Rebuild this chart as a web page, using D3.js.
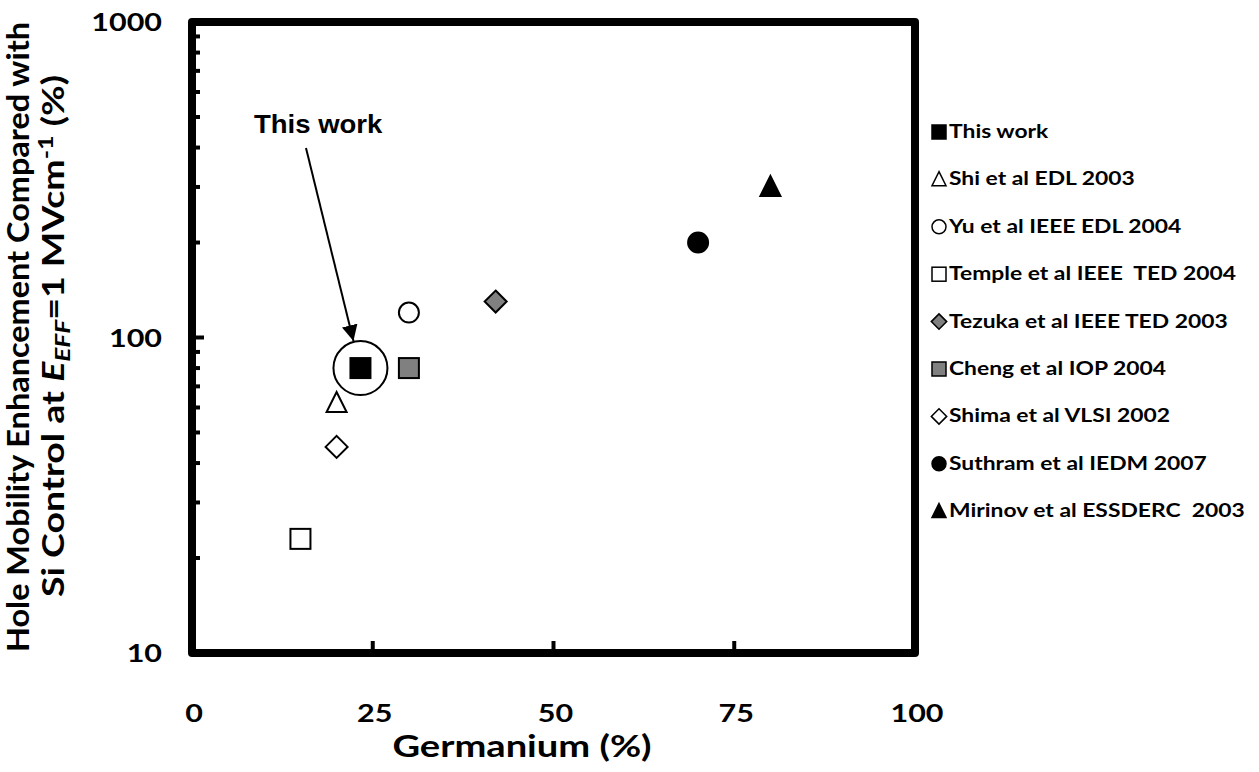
<!DOCTYPE html>
<html>
<head>
<meta charset="utf-8">
<script src="https://cdn.jsdelivr.net/npm/d3@7"></script>
<style>
  body { margin: 0; background: #fff; }
  text { font-family: Lato, "Open Sans", sans-serif; font-weight: bold; fill: #000; }
</style>
</head>
<body>
<div class="chart"></div>
<script>
// data
var labels = ["This work", "Shi et al EDL 2003", "Yu et al IEEE EDL 2004", "Temple et al IEEE  TED 2004",
  "Tezuka et al IEEE TED 2003", "Cheng et al IOP 2004", "Shima et al VLSI 2002",
  "Suthram et al IEDM 2007", "Mirinov et al ESSDERC  2003"];
var germanium = [23.3, 20, 30, 15, 42, 30, 20, 70, 80];
var enhancement = [80, 62, 120, 23, 130, 80, 45, 200, 300];
var shapes = ["square", "triangle", "circle", "square", "diamond", "square", "diamond", "circle", "triangle"];
var fills = ["#000", "#fff", "#fff", "#fff", "#808080", "#808080", "#fff", "#000", "#000"];
var xTicks = [0, 25, 50, 75, 100];
var yTicks = [10, 100, 1000];

var svgWidth = 1259;
var svgHeight = 772;
var stretch = 1.27; // the original picture is wider than tall, text looks stretched

var svg = d3.select(".chart")
  .append("svg")
  .attr("width", svgWidth)
  .attr("height", svgHeight);

var x = d3.scaleLinear().domain([0, 100]).range([192, 915]);
var y = d3.scaleLog().domain([10, 1000]).range([653, 22]);

// minor ticks on the left, inside
var minor = [];
[10, 100].forEach(function(d) { for (var k = 2; k <= 9; k++) minor.push(d * k); });
svg.selectAll(".ytick").data(minor.concat([100])).enter().append("line")
  .attr("x1", 192).attr("x2", d => d == 100 ? 204 : 200)
  .attr("y1", d => y(d)).attr("y2", d => y(d))
  .attr("stroke", "#000").attr("stroke-width", 4);

svg.selectAll(".xtick").data([25, 50, 75]).enter().append("line")
  .attr("x1", d => x(d)).attr("x2", d => x(d))
  .attr("y1", 653).attr("y2", 641)
  .attr("stroke", "#000").attr("stroke-width", 4);

// frame
svg.append("rect")
  .attr("x", x(0)).attr("y", y(1000))
  .attr("width", x(100) - x(0)).attr("height", y(10) - y(1000))
  .attr("fill", "none").attr("stroke", "#000").attr("stroke-width", 8)
  .attr("stroke-linejoin", "round");

// tick labels
svg.selectAll(".xlab").data(xTicks).enter().append("text")
  .attr("transform", d => `translate(${x(d) + 2},722) scale(${stretch},1)`)
  .attr("text-anchor", "middle").attr("font-size", 24)
  .text(d => d);

svg.selectAll(".ylab").data(yTicks).enter().append("text")
  .attr("transform", d => `translate(162,${y(d) + 9}) scale(${stretch},1)`)
  .attr("text-anchor", "end").attr("font-size", 24)
  .text(d => d);

// axis titles
svg.append("text")
  .attr("transform", `translate(522,757) scale(${stretch},1)`)
  .attr("text-anchor", "middle").attr("font-size", 30)
  .text("Germanium (%)");

var yt1 = svg.append("text")
  .attr("transform", "translate(29,337) rotate(-90)")
  .attr("text-anchor", "middle").attr("font-size", 30)
  .attr("textLength", 630).attr("lengthAdjust", "spacingAndGlyphs")
  .text("Hole Mobility Enhancement Compared with");

var yt = svg.append("text")
  .attr("transform", "translate(64,336) rotate(-90)")
  .attr("text-anchor", "middle").attr("font-size", 30)
  .attr("textLength", 522).attr("lengthAdjust", "spacingAndGlyphs");
yt.append("tspan").text("Si Control at ");
yt.append("tspan").attr("font-style", "italic").text("E");
yt.append("tspan").attr("font-style", "italic").attr("font-size", 21).attr("dy", 6).text("EFF");
yt.append("tspan").attr("dy", -6).text("=1 MVcm");
yt.append("tspan").attr("font-size", 20).attr("dy", -11).text("-1");
yt.append("tspan").attr("dy", 11).text(" (%)");

// markers
function drawMarker(g, shape, s) {
  if (shape == "square") {
    g.append("rect").attr("x", -s / 2).attr("y", -s / 2).attr("width", s).attr("height", s);
  } else if (shape == "circle") {
    g.append("circle").attr("r", s / 2);
  } else if (shape == "diamond") {
    var h = s * 0.55;
    g.append("path").attr("d", `M0,${-h}L${h},0L0,${h}L${-h},0Z`);
  } else {
    g.append("path").attr("d", `M0,${-s * 0.55}L${s / 2},${s * 0.45}L${-s / 2},${s * 0.45}Z`);
  }
}

var idx = d3.range(labels.length);

svg.selectAll(".pt").data(idx).enter().append("g")
  .attr("transform", i => `translate(${x(germanium[i])},${y(enhancement[i])})`)
  .each(function(i) {
    var g = d3.select(this);
    drawMarker(g, shapes[i], 20);
    g.selectAll("*").attr("fill", fills[i]).attr("stroke", "#000").attr("stroke-width", 2);
  });

// "This work" highlight
var tx = x(germanium[0]), ty = y(enhancement[0]);
svg.append("circle").attr("cx", tx).attr("cy", ty).attr("r", 27)
  .attr("fill", "none").attr("stroke", "#000").attr("stroke-width", 2);

svg.append("defs").append("marker")
  .attr("id", "arrow").attr("viewBox", "0 0 10 10")
  .attr("refX", 10).attr("refY", 5)
  .attr("markerWidth", 8).attr("markerHeight", 8)
  .attr("orient", "auto")
  .append("path").attr("d", "M0,0L10,5L0,10Z").attr("fill", "#000");

svg.append("line")
  .attr("x1", 306).attr("y1", 148)
  .attr("x2", tx - 7).attr("y2", ty - 27)
  .attr("stroke", "#000").attr("stroke-width", 2)
  .attr("marker-end", "url(#arrow)");

svg.append("text")
  .attr("transform", "translate(254,133) scale(1.1,1)")
  .attr("font-size", 25)
  .style("font-family", "'Liberation Sans', Arial, sans-serif")
  .text("This work");

// legend
var leg = svg.selectAll(".leg").data(idx).enter().append("g")
  .attr("transform", i => `translate(939,${132 + i * 47.4})`);
leg.each(function(i) {
  var g = d3.select(this);
  drawMarker(g, shapes[i], 14);
  g.selectAll("*").attr("fill", fills[i]).attr("stroke", "#000").attr("stroke-width", 1.5);
});
leg.append("text")
  .attr("transform", `translate(10,6) scale(${stretch},1)`)
  .attr("font-size", 18)
  .style("white-space", "pre")
  .text(i => labels[i]);
</script>
</body>
</html>
